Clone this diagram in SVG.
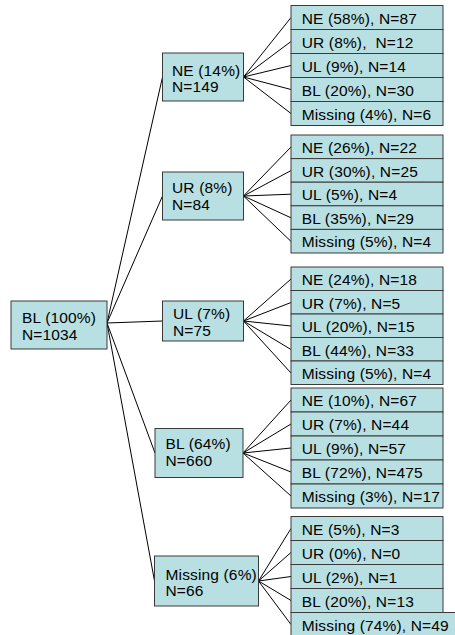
<svg xmlns="http://www.w3.org/2000/svg" width="455" height="635" viewBox="0 0 455 635">
<style>
rect{fill:#B8E0E3;stroke:#3a3a3a;stroke-width:1}
text{font-family:"Liberation Sans",Arial,sans-serif;font-size:15.5px;letter-spacing:0.15px;fill:#000;white-space:pre}
#connectors line{stroke:#000;stroke-width:1}
</style>
<rect x="0" y="0" width="455" height="635" style="fill:#fff;stroke:none"/>
<g id="connectors">
<line x1="107" y1="323" x2="162.5" y2="77"/>
<line x1="107" y1="323" x2="162.5" y2="196"/>
<line x1="107" y1="323" x2="162.5" y2="321"/>
<line x1="107" y1="323" x2="155" y2="453"/>
<line x1="107" y1="323" x2="154.5" y2="581"/>
<line x1="243.5" y1="77" x2="291" y2="17.5"/>
<line x1="243.5" y1="77" x2="291" y2="41.5"/>
<line x1="243.5" y1="77" x2="291" y2="65.5"/>
<line x1="243.5" y1="77" x2="291" y2="89.5"/>
<line x1="243.5" y1="77" x2="291" y2="113.5"/>
<line x1="243.5" y1="196" x2="291" y2="147"/>
<line x1="243.5" y1="196" x2="291" y2="170.6"/>
<line x1="243.5" y1="196" x2="291" y2="194.2"/>
<line x1="243.5" y1="196" x2="291" y2="217.8"/>
<line x1="243.5" y1="196" x2="291" y2="241.4"/>
<line x1="243.5" y1="321" x2="291" y2="279"/>
<line x1="243.5" y1="321" x2="291" y2="302.5"/>
<line x1="243.5" y1="321" x2="291" y2="326"/>
<line x1="243.5" y1="321" x2="291" y2="349.5"/>
<line x1="243.5" y1="321" x2="291" y2="373"/>
<line x1="243" y1="453" x2="291" y2="400"/>
<line x1="243" y1="453" x2="291" y2="424"/>
<line x1="243" y1="453" x2="291" y2="448"/>
<line x1="243" y1="453" x2="291" y2="472"/>
<line x1="243" y1="453" x2="291" y2="496"/>
<line x1="258.5" y1="581" x2="291" y2="528.5"/>
<line x1="258.5" y1="581" x2="291" y2="552.5"/>
<line x1="258.5" y1="581" x2="291" y2="576.5"/>
<line x1="258.5" y1="581" x2="291" y2="600.5"/>
<line x1="258.5" y1="581" x2="291" y2="624.5"/>
</g>
<g id="root"><rect x="11" y="301" width="96" height="48"/><text x="22" y="323">BL (100%)</text><text x="22" y="340">N=1034</text></g>
<g id="l2-ne"><rect x="162.5" y="53" width="81" height="48"/><text x="172" y="75.5">NE (14%)</text><text x="172" y="92">N=149</text></g>
<g id="l2-ur"><rect x="162.5" y="172" width="81" height="48"/><text x="172" y="192.5">UR (8%)</text><text x="172" y="210">N=84</text></g>
<g id="l2-ul"><rect x="162.5" y="301" width="81" height="40"/><text x="173" y="318.5">UL (7%)</text><text x="173" y="335.5">N=75</text></g>
<g id="l2-bl"><rect x="155" y="428.5" width="88" height="49"/><text x="165.5" y="449">BL (64%)</text><text x="165.5" y="466">N=660</text></g>
<g id="l2-missing"><rect x="154.5" y="556" width="104" height="50"/><text x="165.5" y="580">Missing (6%)</text><text x="165.5" y="596">N=66</text></g>

<g id="ne-ne"><rect x="291" y="5.5" width="152" height="24"/><text x="301.7" y="23.5">NE (58%), N=87</text></g>
<g id="ne-ur"><rect x="291" y="29.5" width="152" height="24"/><text x="301.7" y="47.5">UR (8%),  N=12</text></g>
<g id="ne-ul"><rect x="291" y="53.5" width="152" height="24"/><text x="301.7" y="71.5">UL (9%), N=14</text></g>
<g id="ne-bl"><rect x="291" y="77.5" width="152" height="24"/><text x="301.7" y="95.5">BL (20%), N=30</text></g>
<g id="ne-missing"><rect x="291" y="101.5" width="152" height="24"/><text x="301.7" y="119.5">Missing (4%), N=6</text></g>

<g id="ur-ne"><rect x="291" y="135" width="152" height="23.6"/><text x="301.7" y="153">NE (26%), N=22</text></g>
<g id="ur-ur"><rect x="291" y="158.6" width="152" height="23.6"/><text x="301.7" y="176.6">UR (30%), N=25</text></g>
<g id="ur-ul"><rect x="291" y="182.2" width="152" height="23.6"/><text x="301.7" y="200.2">UL (5%), N=4</text></g>
<g id="ur-bl"><rect x="291" y="205.8" width="152" height="23.6"/><text x="301.7" y="223.8">BL (35%), N=29</text></g>
<g id="ur-missing"><rect x="291" y="229.4" width="152" height="23.6"/><text x="301.7" y="247.4">Missing (5%), N=4</text></g>

<g id="ul-ne"><rect x="291" y="267" width="152" height="23.5"/><text x="301.7" y="285">NE (24%), N=18</text></g>
<g id="ul-ur"><rect x="291" y="290.5" width="152" height="23.5"/><text x="301.7" y="308.5">UR (7%), N=5</text></g>
<g id="ul-ul"><rect x="291" y="314" width="152" height="23.5"/><text x="301.7" y="332">UL (20%), N=15</text></g>
<g id="ul-bl"><rect x="291" y="337.5" width="152" height="23.5"/><text x="301.7" y="355.5">BL (44%), N=33</text></g>
<g id="ul-missing"><rect x="291" y="361" width="152" height="23.5"/><text x="301.7" y="379">Missing (5%), N=4</text></g>

<g id="bl-ne"><rect x="291" y="388" width="152" height="24"/><text x="301.7" y="406">NE (10%), N=67</text></g>
<g id="bl-ur"><rect x="291" y="412" width="152" height="24"/><text x="301.7" y="430">UR (7%), N=44</text></g>
<g id="bl-ul"><rect x="291" y="436" width="152" height="24"/><text x="301.7" y="454">UL (9%), N=57</text></g>
<g id="bl-bl"><rect x="291" y="460" width="152" height="24"/><text x="301.7" y="478">BL (72%), N=475</text></g>
<g id="bl-missing"><rect x="291" y="484" width="152" height="24"/><text x="301.7" y="502">Missing (3%), N=17</text></g>

<g id="mi-ne"><rect x="291" y="516.5" width="152" height="24"/><text x="301.7" y="534.5">NE (5%), N=3</text></g>
<g id="mi-ur"><rect x="291" y="540.5" width="152" height="24"/><text x="301.7" y="558.5">UR (0%), N=0</text></g>
<g id="mi-ul"><rect x="291" y="564.5" width="152" height="24"/><text x="301.7" y="582.5">UL (2%), N=1</text></g>
<g id="mi-bl"><rect x="291" y="588.5" width="152" height="24"/><text x="301.7" y="606.5">BL (20%), N=13</text></g>
<g id="mi-missing"><rect x="291" y="612.5" width="170" height="26"/><text x="301.7" y="630.5">Missing (74%), N=49</text></g>
</svg>
